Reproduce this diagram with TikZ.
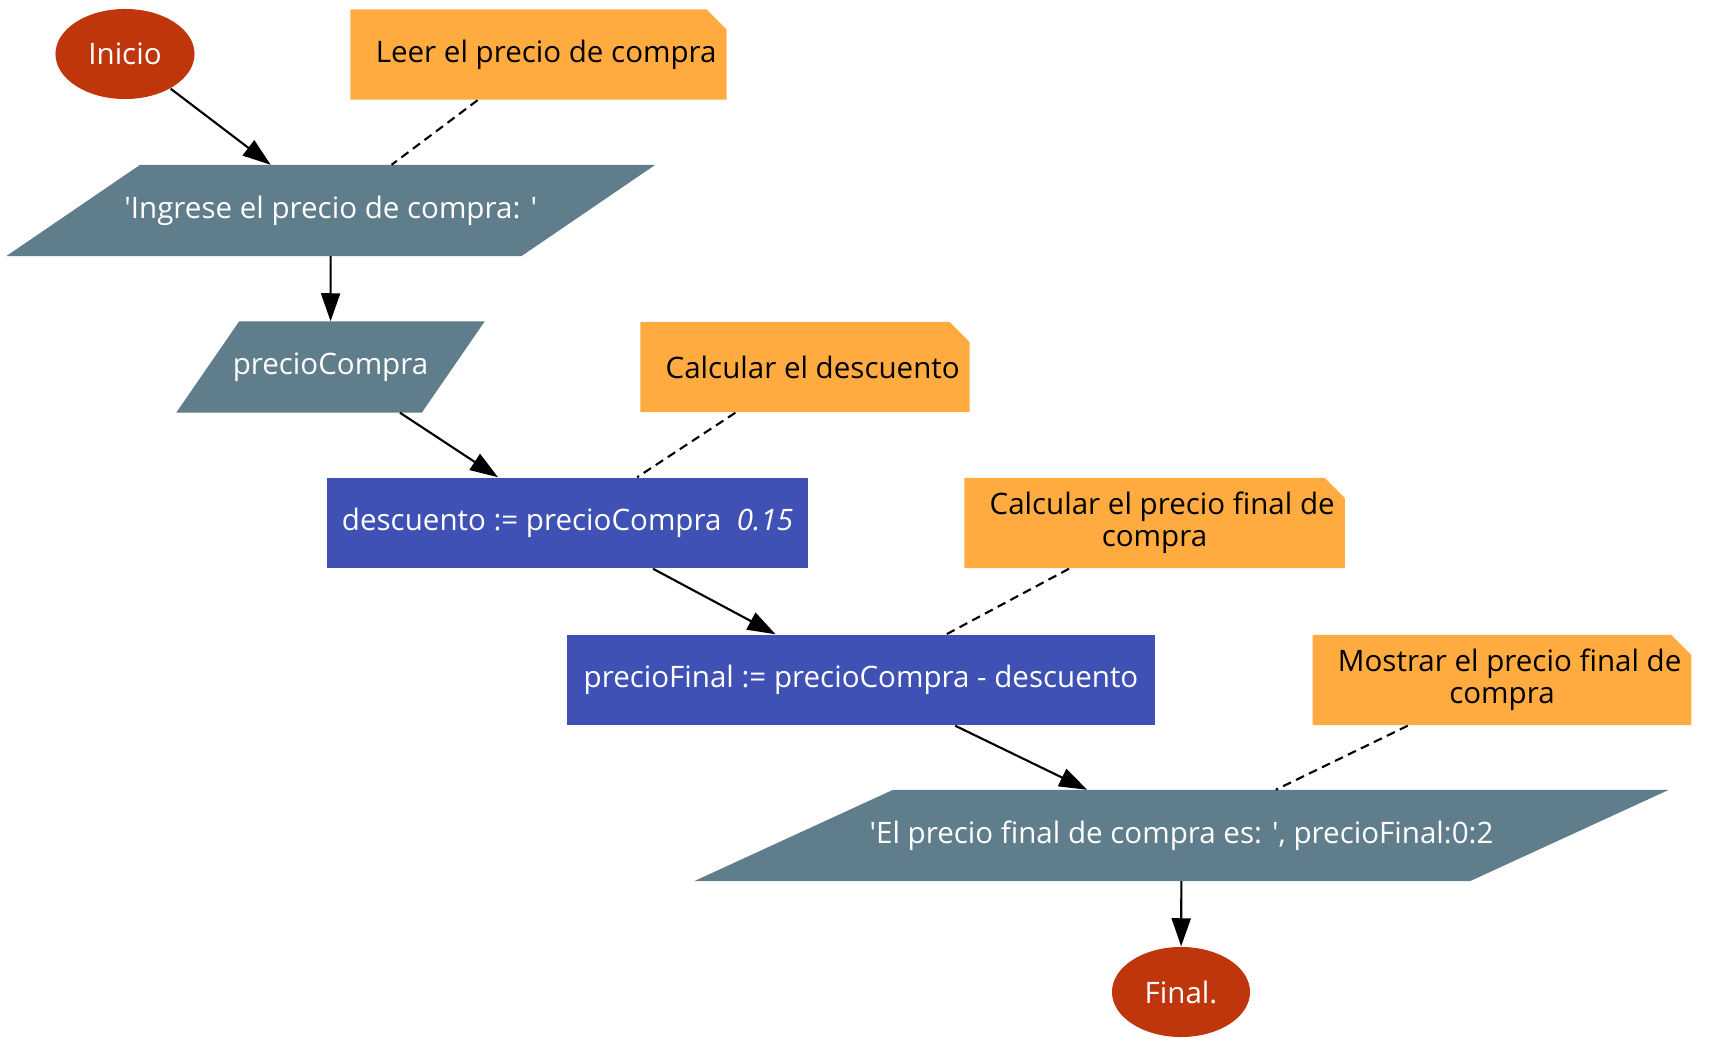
\documentclass[tikz,border=0pt]{standalone}
\usepackage{fontspec}
\setmainfont{Open Sans}
\usetikzlibrary{shapes.geometric,shapes.misc,arrows.meta,backgrounds}

\begin{document}
\begin{tikzpicture}[x=0.01cm,y=-0.01cm,
  font=\fontsize{8.4}{9}\selectfont,
  terminal/.style={ellipse,fill=rojoterm,text=white,minimum width=1.39cm,minimum height=0.9cm,inner sep=0},
  nota/.style={chamfered rectangle,chamfered rectangle corners=north east,chamfered rectangle sep=0.1cm,
    fill=naranjanota,minimum height=0.9cm,align=center,inner sep=0},
  entsal/.style={rectangle,text=white,minimum height=0.9cm,inner sep=0},
  proceso/.style={rectangle,fill=azulproc,text=white,minimum height=0.9cm,inner sep=0},
  flecha/.style={-{Triangle[length=2.8mm,width=1.9mm]},line width=0.6pt},
  enlace/.style={dash pattern=on 2.5pt off 1.6pt,line width=0.6pt}]
\definecolor{rojoterm}{HTML}{BF360C}
\definecolor{naranjanota}{HTML}{FFAB40}
\definecolor{grisentsal}{HTML}{607D8B}
\definecolor{azulproc}{HTML}{3F51B5}
\useasboundingbox (0,0) rectangle (1714,1061);

% flujo principal
\node [terminal] (inicio) at (125,54) {Inicio};
\node [entsal,minimum width=5.135cm] (ingresar) at (330.75,210.5) {\textquotesingle Ingrese el precio de compra: \textquotesingle};
\node [entsal,minimum width=2.44cm] (leer) at (330.5,367) {precioCompra};
\node [proceso,minimum width=4.81cm] (calcDesc) at (567.5,523) {descuento := precioCompra\ \ \textit{0.15}};
\node [proceso,minimum width=5.88cm] (calcFinal) at (861,680) {precioFinal := precioCompra - descuento};
\node [entsal,minimum width=7.74cm] (mostrar) at (1181.5,835.5) {\textquotesingle El precio final de compra es: \textquotesingle, precioFinal:0:2};
\node [terminal,minimum width=1.38cm] (fin) at (1181,992) {Final.};

% paralelogramos de entrada/salida
\begin{scope}[on background layer]
\foreach \n/\s in {ingresar/0.67cm,leer/0.315cm,mostrar/0.995cm}
  {\fill [grisentsal] ([xshift=-\s]\n.south west) -- ([xshift=-\s]\n.south east)
     -- ([xshift=\s]\n.north east) -- ([xshift=\s]\n.north west) -- cycle;}
\end{scope}

% comentarios
\node [nota,minimum width=3.66cm] (notaLeer) at (538.5,54.5) {\ \ Leer el precio de compra};
\node [nota,minimum width=3.17cm] (notaDesc) at (805,367) {\ \ Calcular el descuento};
\node [nota,minimum width=3.68cm] (notaFinal) at (1154.5,523) {\ \ Calcular el precio final de\\compra};
\node [nota,minimum width=3.69cm] (notaMostrar) at (1502,680) {\ \ Mostrar el precio final de\\compra};

\foreach \desde/\hasta in {inicio/ingresar,ingresar/leer,leer/calcDesc,calcDesc/calcFinal,calcFinal/mostrar,mostrar/fin}
  {\draw [flecha] (\desde) -- (\hasta);}
\foreach \nota/\paso in {notaLeer/ingresar,notaDesc/calcDesc,notaFinal/calcFinal,notaMostrar/mostrar}
  {\draw [enlace] (\nota) -- (\paso);}
\end{tikzpicture}
\end{document}
